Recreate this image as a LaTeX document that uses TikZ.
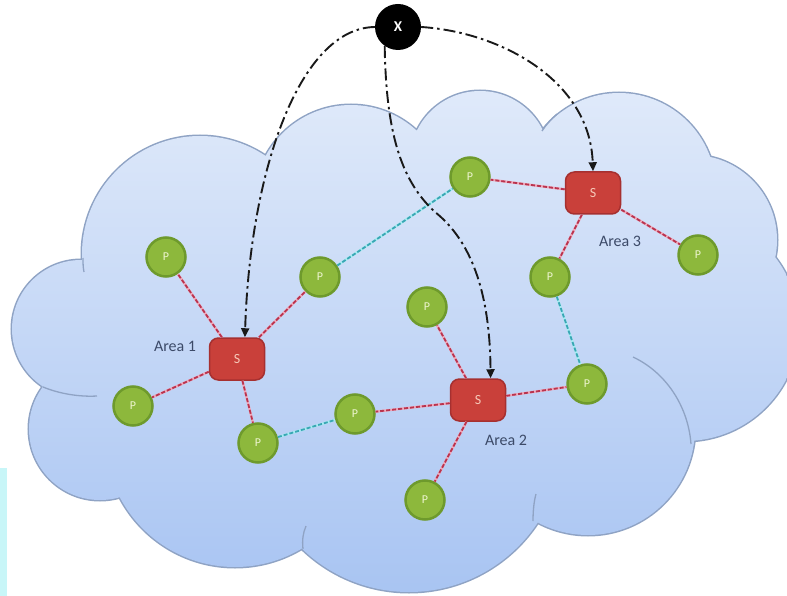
\documentclass[tikz,border=0pt]{standalone}
\usepackage{fontspec}
\setmainfont{Carlito}
\usetikzlibrary{arrows.meta}
\definecolor{cloudtop}{HTML}{E0EAFA}
\definecolor{cloudbot}{HTML}{A8C4F2}
\definecolor{cloudedge}{HTML}{8FA3C4}
\definecolor{stripcyan}{HTML}{C8F6F8}
\definecolor{pfill}{HTML}{8DB83C}
\definecolor{pdraw}{HTML}{6E9A2C}
\definecolor{ptext}{HTML}{EEF5D0}
\definecolor{sfill}{HTML}{C9403A}
\definecolor{sdraw}{HTML}{A63030}
\definecolor{stext}{HTML}{F6C8B8}
\definecolor{reddash}{HTML}{B8344F}
\definecolor{redunder}{HTML}{F0A8BA}
\definecolor{cyandash}{HTML}{3AA6B4}
\definecolor{cyanunder}{HTML}{A8ECF2}
\definecolor{labelcol}{HTML}{3C4A68}
\begin{document}
\begin{tikzpicture}[x=1pt,y=-1pt,
  pnode/.style={circle,fill=pfill,draw=pdraw,line width=2.5pt,minimum size=39pt,inner sep=0pt,
    text=ptext,font=\fontsize{12}{14}\selectfont},
  snode/.style={rectangle,rounded corners=9pt,fill=sfill,draw=sdraw,line width=1.5pt,
    minimum width=55pt,minimum height=42pt,inner sep=0pt,text=stext,font=\fontsize{14}{16}\selectfont},
  xnode/.style={circle,fill=black,minimum size=46pt,inner sep=0pt,text=white,
    font=\bfseries\fontsize{15}{17}\selectfont},
  redline/.style={draw=reddash,line width=1.8pt,dash pattern=on 4pt off 2pt,
    preaction={draw=redunder,line width=2.4pt,solid}},
  cyanline/.style={draw=cyandash,line width=1.8pt,dash pattern=on 4pt off 2pt,
    preaction={draw=cyanunder,line width=2.4pt,solid}},
  arr/.style={draw=black!90,line width=1.9pt,dash pattern=on 12pt off 4pt on 2.5pt off 4pt,
    -{Triangle[length=9pt,width=8pt]}},
  arealabel/.style={text=labelcol,font=\fontsize{16}{18}\selectfont},
  cloudline/.style={draw=cloudedge,line width=1.3pt}
]
\useasboundingbox (0,0) rectangle (787,596);
\fill[stripcyan] (0,468) rectangle (7,596);
% cloud outline
\foreach \cx/\cy/\r in {81/329/69, 200/254/118, 351/202/97, 480/161/70, 619/190/97,
  692/240/85, 685/327/114, 588/428/107, 409/438/154, 235/437/130, 100/429/71}
  \draw[draw=cloudedge,line width=3pt] (\cx,\cy) circle (\r);
% cloud fill
\begin{scope}
\clip (81,329) circle (69) (200,254) circle (118) (351,202) circle (97) (480,161) circle (70)
  (619,190) circle (97) (692,240) circle (85) (685,327) circle (114) (588,428) circle (107)
  (409,438) circle (154) (235,437) circle (130) (100,429) circle (71)
  (540,310) circle (120) (400,330) circle (120) (250,340) circle (100);
\shade[top color=cloudtop,bottom color=cloudbot] (0,85) rectangle (787,596);
\end{scope}
% inner arcs of the cloud
\draw[cloudline] (633,357) .. controls (665,372) and (688,405) .. (691,444);
\draw[cloudline] (43,387) .. controls (60,394) and (80,397) .. (97,396);
\draw[cloudline] (303,549) .. controls (302,540) and (303,533) .. (306,526);
\draw[cloudline] (533,521) .. controls (533,511) and (534,501) .. (536,494);
\draw[cloudline] (83,258) .. controls (83,263) and (83,267) .. (84,272);
\draw[cloudline] (542,131) .. controls (546,125) and (551,119) .. (557,114);

% nodes
\node[xnode] (x) at (398,27) {X};
\node[snode] (s1) at (237,359) {S};
\node[snode] (s2) at (478,400) {S};
\node[snode] (s3) at (593,193) {S};
\node[pnode] (pa) at (166,257) {P};
\node[pnode] (pb) at (320,277) {P};
\node[pnode] (pc) at (133,406) {P};
\node[pnode] (pd) at (258,443) {P};
\node[pnode] (pe) at (355,414) {P};
\node[pnode] (pf) at (427,307) {P};
\node[pnode] (pg) at (425,500) {P};
\node[pnode] (ph) at (587,384) {P};
\node[pnode] (pi) at (470,177) {P};
\node[pnode] (pj) at (550,277) {P};
\node[pnode] (pk) at (698,255) {P};

% edges
\begin{scope}[on background layer/.try]
\end{scope}
\draw[redline] (s1) -- (pa);
\draw[redline] (s1) -- (pb);
\draw[redline] (s1) -- (pc);
\draw[redline] (s1) -- (pd);
\draw[redline] (s2) -- (pe);
\draw[redline] (s2) -- (pf);
\draw[redline] (s2) -- (pg);
\draw[redline] (s2) -- (ph);
\draw[redline] (s3) -- (pi);
\draw[redline] (s3) -- (pj);
\draw[redline] (s3) -- (pk);
\draw[cyanline] (pb) -- (pi);
\draw[cyanline] (pd) -- (pe);
\draw[cyanline] (pj) -- (ph);

% dash-dot arrows from X
\draw[arr] (x.west) .. controls (300,28) and (250,170) .. (s1.70);
\draw[arr] (x.235) .. controls (386,130) and (400,180) .. (435,212)
  .. controls (470,240) and (490,290) .. (s2.60);
\draw[arr] (x.east) .. controls (500,32) and (590,80) .. (s3.north);

% labels
\node[arealabel] (l1) at (175,346) {Area 1};
\node[arealabel] (l2) at (506,440) {Area 2};
\node[arealabel] (l3) at (620,241) {Area 3};
\end{tikzpicture}
\end{document}
